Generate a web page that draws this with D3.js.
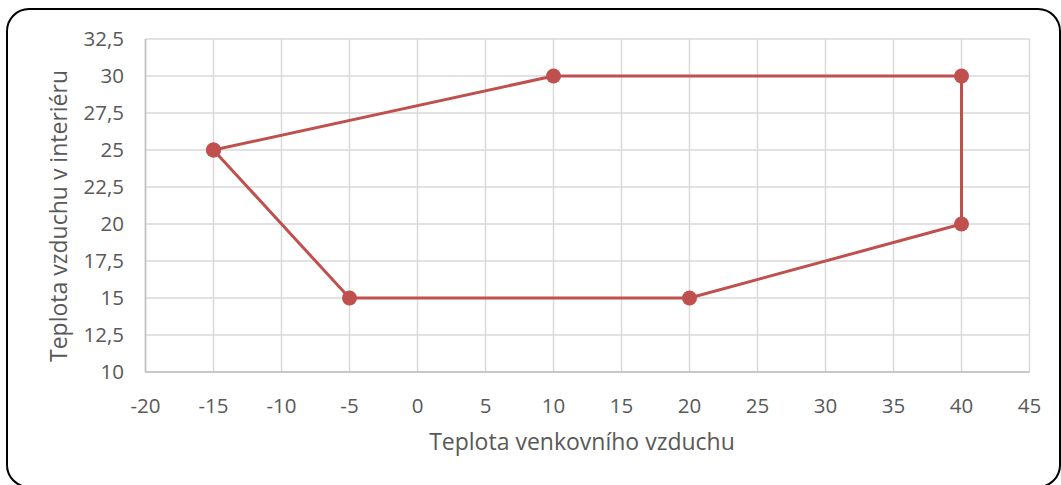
<html>
<head>
<style>
  body { margin: 0; background: #fff; }
  text { font-family: "Open Sans", Lato, sans-serif; fill: #595959; }
</style>
</head>
<body>
<svg id="svg" width="1061" height="485"></svg>
<script src="https://d3js.org/d3.v7.min.js"></script>
<script>

// data
var outsideTemp = [-15, 10, 40, 40, 20, -5, -15];
var insideTemp  = [25, 30, 30, 20, 15, 15, 25];
var xTicks = [-20, -15, -10, -5, 0, 5, 10, 15, 20, 25, 30, 35, 40, 45];
var yTicks = [10, 12.5, 15, 17.5, 20, 22.5, 25, 27.5, 30, 32.5];
var xTitle = "Teplota venkovního vzduchu";
var yTitle = "Teplota vzduchu v interiéru";

var svg = d3.select("#svg");
var pL = 145.5, pR = 1029.5, pT = 39, pB = 372;

var x = d3.scaleLinear().domain([-20, 45]).range([pL, pR]);
var y = d3.scaleLinear().domain([10, 32.5]).range([pB, pT]);

// frame
svg.append("rect")
  .attr("x", 7).attr("y", 9)
  .attr("width", 1053).attr("height", 478)
  .attr("rx", 22).attr("ry", 22)
  .style("fill", "none").style("stroke", "black").style("stroke-width", 2);

// grid
svg.append("g").selectAll("line").data(xTicks).join("line")
  .attr("x1", d => x(d)).attr("x2", d => x(d))
  .attr("y1", pT).attr("y2", pB)
  .style("stroke", "#d9d9d9").style("stroke-width", 1.5);
svg.append("g").selectAll("line").data(yTicks).join("line")
  .attr("x1", pL).attr("x2", pR)
  .attr("y1", d => y(d)).attr("y2", d => y(d))
  .style("stroke", "#d9d9d9").style("stroke-width", 1.5);

// axis lines
svg.append("line").attr("x1", pL).attr("x2", pL).attr("y1", pT).attr("y2", pB)
  .style("stroke", "#bfbfbf").style("stroke-width", 1.5);
svg.append("line").attr("x1", pL).attr("x2", pR).attr("y1", pB).attr("y2", pB)
  .style("stroke", "#bfbfbf").style("stroke-width", 1.5);

var fmt = d => String(d).replace(".", ",");

svg.append("g").selectAll("text").data(xTicks).join("text")
  .attr("x", d => x(d)).attr("y", 413)
  .attr("text-anchor", "middle")
  .style("font-size", "20.5px")
  .text(fmt);

svg.append("g").selectAll("text").data(yTicks).join("text")
  .attr("x", 124).attr("y", d => y(d) + 7)
  .attr("text-anchor", "end")
  .style("font-size", "20.5px")
  .text(fmt);

svg.append("text")
  .attr("x", 582).attr("y", 450)
  .attr("text-anchor", "middle")
  .style("font-size", "23px")
  .text(xTitle);

svg.append("text")
  .attr("transform", "translate(67,216) rotate(-90)")
  .attr("text-anchor", "middle")
  .style("font-size", "23px")
  .text(yTitle);

// series
var pts = outsideTemp.map((d, i) => [d, insideTemp[i]]);
svg.append("path")
  .datum(pts)
  .attr("d", d3.line().x(d => x(d[0])).y(d => y(d[1])))
  .style("fill", "none").style("stroke", "#c0504d").style("stroke-width", 3)
  .style("stroke-linejoin", "round");

svg.append("g").selectAll("circle").data(pts).join("circle")
  .attr("cx", d => x(d[0])).attr("cy", d => y(d[1]))
  .attr("r", 7.5)
  .style("fill", "#c0504d");

</script>
</body>
</html>
